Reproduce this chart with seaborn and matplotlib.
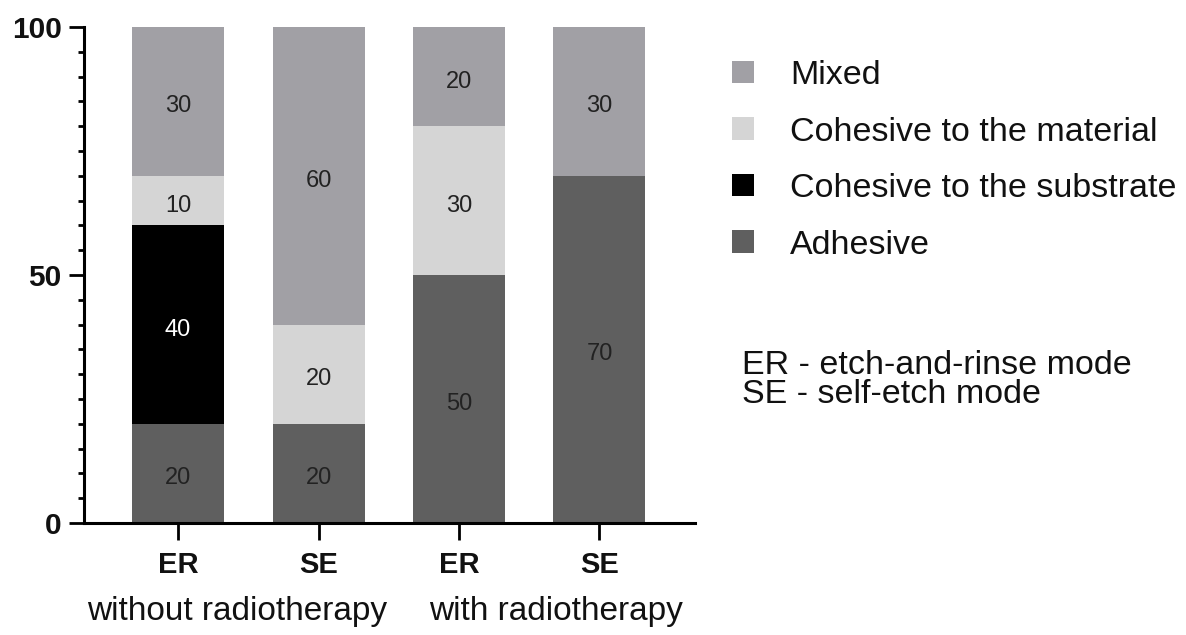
import matplotlib
matplotlib.use('Agg')
import matplotlib.pyplot as plt
import seaborn as sns
import numpy as np
from matplotlib.ticker import MultipleLocator

# Data (percent of failure modes)
groups = ['ER without', 'SE without', 'ER with', 'SE with']
tick_labels = ['ER', 'SE', 'ER', 'SE']
adhesive = [20, 20, 50, 70]
substrate = [40, 0, 0, 0]
material = [10, 20, 30, 0]
mixed = [30, 60, 20, 30]

sns.set_style('white')
plt.rcParams['font.family'] = ['Liberation Sans', 'DejaVu Sans']
plt.rcParams['text.color'] = '#111111'
plt.rcParams['xtick.color'] = 'black'
plt.rcParams['ytick.color'] = 'black'
plt.rcParams['xtick.labelcolor'] = '#111111'
plt.rcParams['ytick.labelcolor'] = '#111111'

fig = plt.figure(figsize=(11.86, 6.35), dpi=100)
ax = fig.add_axes([84/1186, 1-523/635, (695-84)/1186, (523-27)/635])

layers = [('Mixed', mixed, '#a1a0a5'),
          ('Cohesive to the material', material, '#d5d5d5'),
          ('Cohesive to the substrate', substrate, '#000000'),
          ('Adhesive', adhesive, '#5f5f5f')]

# stack: draw cumulative totals from top layer down
stack = np.array([l[1] for l in layers[::-1]])  # adhesive first
cum = np.cumsum(stack, axis=0)[::-1]
for (name, vals, col), tot in zip(layers, cum):
    sns.barplot(x=groups, y=tot, color=col, saturation=1, width=0.655,
                linewidth=0, label=name, ax=ax)

# segment labels
bottoms = np.vstack([np.zeros(4), np.cumsum(stack, axis=0)[:-1]])[::-1]
for (name, vals, col), bot in zip(layers, bottoms):
    for i, v in enumerate(vals):
        if v > 0:
            ax.text(i, bot[i] + v / 2 - 1, str(v), ha='center', va='center',
                    fontsize=17, color='white' if col == '#000000' else '#222222')

ax.set_xlim(-0.67, 3.68)
ax.set_ylim(0, 100)
ax.yaxis.set_major_locator(MultipleLocator(50))
ax.yaxis.set_minor_locator(MultipleLocator(5))
ax.set_xticks(range(4))
ax.set_xticklabels(tick_labels, fontsize=21, fontweight='bold')
for t in ax.get_yticklabels():
    t.set_fontsize(21.5)
    t.set_fontweight('bold')
ax.tick_params(axis='y', which='major', length=11, width=2, pad=5, left=True)
ax.tick_params(axis='y', which='minor', length=4.5, width=2, left=True)
ax.tick_params(axis='x', which='major', length=12, width=2, pad=8, bottom=True)
ax.set_xlabel('')
ax.set_ylabel('')
sns.despine(ax=ax)
for s in ['left', 'bottom']:
    ax.spines[s].set_linewidth(2.2)
    ax.spines[s].set_color('black')

trans = ax.get_xaxis_transform()
ax.text(0.42, -0.178, 'without radiotherapy', transform=trans, ha='center', va='center', fontsize=24)
ax.text(2.69, -0.178, 'with radiotherapy', transform=trans, ha='center', va='center', fontsize=24)

ax.legend(loc='upper left', bbox_to_anchor=(732/1186, 1-60/635), bbox_transform=fig.transFigure,
          frameon=False, fontsize=24.5, handlelength=0.65, handleheight=0.65,
          handletextpad=1.05, labelspacing=0.75, borderpad=0, borderaxespad=0)

fig.text(742/1186, 1-380/635, 'ER - etch-and-rinse mode\nSE - self-etch mode',
         ha='left', va='center', fontsize=24.5, linespacing=0.95)

fig.savefig('out.png', dpi=100)
